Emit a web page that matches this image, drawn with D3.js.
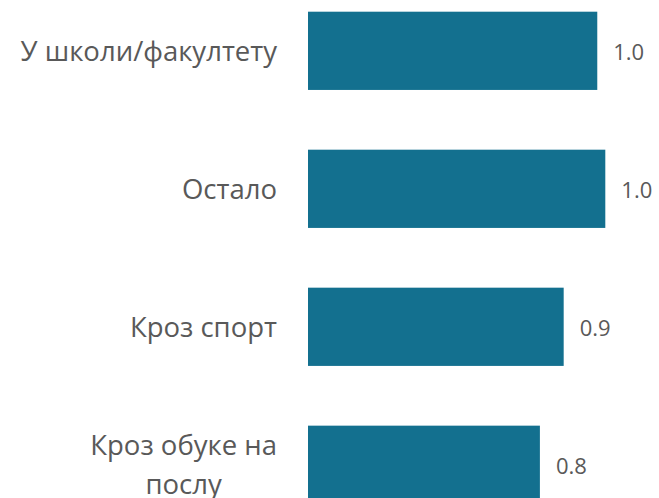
<!DOCTYPE html>
<html>
<head>
<meta charset="utf-8">
<script src="https://cdn.jsdelivr.net/npm/d3@7"></script>
<style>
  body { margin: 0; background: #fff; }
  svg text { font-family: "Open Sans", sans-serif; fill: #595959; }
</style>
</head>
<body>
<div class="chart"></div>
<script>
const width = 659;
const height = 498;

// data
const categories = ["У школи/факултету", "Остало", "Кроз спорт", "Кроз обуке на послу"];
const labelLines = [["У школи/факултету"], ["Остало"], ["Кроз спорт"], ["Кроз обуке на", "послу"]];
const values = [0.973, 1.0, 0.86, 0.78];

const barLeft = 308;
const barColor = "#13708f";

const svg = d3
  .select(".chart")
  .append("svg")
  .attr("width", width)
  .attr("height", height);

const xScale = d3.scaleLinear().domain([0, 1]).range([barLeft, barLeft + 297.3]);

const yScale = d3
  .scaleBand()
  .domain(categories)
  .range([11.7, 503.9])
  .paddingInner(0.433)
  .paddingOuter(0);

const data = categories.map((c, i) => ({ cat: c, value: values[i], lines: labelLines[i] }));

svg
  .selectAll("rect.bar")
  .data(data)
  .enter()
  .append("rect")
  .attr("class", "bar")
  .attr("x", xScale(0))
  .attr("y", (d) => yScale(d.cat))
  .attr("width", (d) => xScale(d.value) - xScale(0))
  .attr("height", yScale.bandwidth())
  .attr("fill", barColor);

// value labels
svg
  .selectAll("text.value")
  .data(data)
  .enter()
  .append("text")
  .attr("class", "value")
  .attr("x", (d) => xScale(d.value) + 16)
  .attr("y", (d) => yScale(d.cat) + yScale.bandwidth() / 2 + 9)
  .style("font-size", "22px")
  .text((d) => d3.format(".1f")(d.value));

// category labels, multi-line ones centred as a block
const lineH = 39;
const labelRight = 277;

const cats = svg
  .selectAll("g.cat")
  .data(data)
  .enter()
  .append("g")
  .attr("class", "cat");

cats.each(function (d) {
  const g = d3.select(this);
  const mid = yScale(d.cat) + yScale.bandwidth() / 2;
  const n = d.lines.length;
  const texts = g
    .selectAll("text")
    .data(d.lines)
    .enter()
    .append("text")
    .attr("y", (t, i) => mid + 10 + (i - (n - 1) / 2) * lineH)
    .style("font-size", "27.5px")
    .text((t) => t);
  if (n === 1) {
    texts.attr("x", labelRight).attr("text-anchor", "end");
  } else {
    const w = d3.max(texts.nodes(), (nd) => nd.getComputedTextLength());
    texts.attr("x", labelRight - w / 2).attr("text-anchor", "middle");
  }
});
</script>
</body>
</html>
